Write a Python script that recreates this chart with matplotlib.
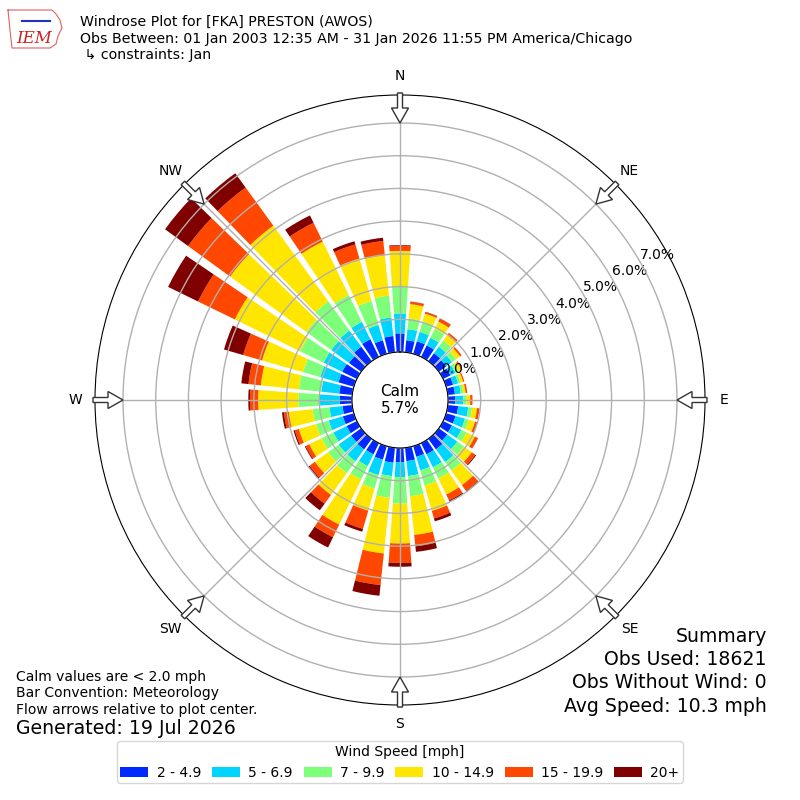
import numpy as np
import matplotlib.pyplot as plt
from matplotlib.patches import FancyArrow

# direction bins (deg, meteorological) and frequency (%) per speed class
directions = np.arange(0, 360, 10)
speed_labels = ['2 - 4.9', '5 - 6.9', '7 - 9.9', '10 - 14.9', '15 - 19.9', '20+']

spd_2_5 = [0.57, 0.37, 0.40, 0.39, 0.30, 0.28, 0.25, 0.22, 0.22, 0.22, 0.32, 0.30,
           0.30, 0.32, 0.40, 0.38, 0.34, 0.41, 0.43, 0.46, 0.43, 0.38, 0.40, 0.38,
           0.35, 0.35, 0.30, 0.37, 0.40, 0.49, 0.50, 0.46, 0.55, 0.60, 0.43, 0.50]
spd_5_7 = [0.61, 0.34, 0.30, 0.26, 0.25, 0.22, 0.17, 0.16, 0.18, 0.25, 0.31, 0.30,
           0.32, 0.38, 0.48, 0.44, 0.43, 0.46, 0.46, 0.41, 0.49, 0.40, 0.45, 0.47,
           0.45, 0.45, 0.40, 0.61, 0.55, 0.58, 0.63, 0.67, 0.61, 0.59, 0.49, 0.57]
spd_7_10 = [0.82, 0.33, 0.33, 0.30, 0.23, 0.15, 0.10, 0.08, 0.08, 0.10, 0.12, 0.12,
            0.18, 0.25, 0.32, 0.38, 0.48, 0.62, 0.81, 0.67, 0.43, 0.46, 0.45, 0.40,
            0.40, 0.40, 0.52, 0.66, 0.69, 0.55, 0.80, 0.94, 1.10, 0.91, 0.76, 0.67]
spd_10_15 = [1.09, 0.44, 0.25, 0.25, 0.22, 0.15, 0.10, 0.08, 0.07, 0.11, 0.15, 0.20,
             0.28, 0.30, 0.55, 0.55, 0.81, 1.19, 1.22, 1.71, 0.70, 1.53, 0.82, 0.50,
             0.42, 0.55, 0.73, 1.23, 1.17, 1.30, 2.22, 2.88, 2.86, 1.82, 1.35, 1.24]
spd_15_20 = [0.16, 0.07, 0.05, 0.10, 0.07, 0.06, 0.04, 0.04, 0.05, 0.07, 0.08, 0.08,
             0.10, 0.13, 0.22, 0.20, 0.24, 0.35, 0.59, 0.97, 0.58, 0.43, 0.33, 0.20,
             0.12, 0.13, 0.15, 0.25, 0.38, 0.60, 1.25, 1.59, 1.44, 0.64, 0.45, 0.44]
spd_20p = [0.02, 0.01, 0.01, 0.01, 0.00, 0.00, 0.00, 0.00, 0.00, 0.00, 0.00, 0.00,
           0.01, 0.03, 0.03, 0.05, 0.09, 0.17, 0.12, 0.33, 0.09, 0.35, 0.25, 0.05,
           0.03, 0.04, 0.06, 0.05, 0.22, 0.61, 1.02, 0.87, 0.54, 0.25, 0.10, 0.10]
calm_pct = 5.7

compass = ['N', 'NE', 'E', 'SE', 'S', 'SW', 'W', 'NW']

series = [spd_2_5, spd_5_7, spd_7_10, spd_10_15, spd_15_20, spd_20p]
colors = plt.cm.jet(np.linspace(0, 1, 7))[1:]

fig = plt.figure(figsize=(8, 8), dpi=100)
ax = fig.add_axes([0.11875, 0.11875, 0.7625, 0.7625], projection='polar')
ax.set_theta_zero_location('N')
ax.set_theta_direction(-1)
ax.set_rorigin(-1.467)
ax.set_ylim(0, 7.856)

theta = np.deg2rad(directions)
width = np.deg2rad(10) * 0.8
bottom = np.zeros(len(directions))
handles = []
for vals, c, lab in zip(series, colors, speed_labels):
    vals = np.array(vals)
    b = ax.bar(theta, vals, width=width, bottom=bottom, color=c, label=lab,
               linewidth=0)
    handles.append(b)
    bottom += vals

ax.set_thetagrids(np.arange(0, 360, 45), compass, fontsize=10)
ax.tick_params(axis='x', pad=3.5)
ax.set_rgrids(np.arange(0, 8), ['%.1f%%' % v for v in range(8)], angle=60,
              fontsize=10)
ax.grid(True, color='#b0b0b0', lw=1)

ax.text(0.5, 0.5, 'Calm\n%.1f%%' % calm_pct, transform=ax.transAxes,
        ha='center', va='center', fontsize=11)

# flow arrows at the 8 compass points
for b in np.deg2rad(np.arange(0, 360, 45)):
    r1, r2 = 307 / 800, 277 / 800
    x0, y0 = 0.5 + r1 * np.sin(b), 0.5 + r1 * np.cos(b)
    dx, dy = (r2 - r1) * np.sin(b), (r2 - r1) * np.cos(b)
    arr = FancyArrow(x0, y0, dx, dy, width=5 / 800, head_width=17 / 800,
                     head_length=15 / 800, length_includes_head=True,
                     fc='white', ec='#333333', lw=1, transform=fig.transFigure)
    fig.add_artist(arr)

# header
fig.text(80 / 800, 1 - 26 / 800, 'Windrose Plot for [FKA] PRESTON (AWOS)',
         fontsize=10.2, va='baseline')
fig.text(80 / 800, 1 - 42.7 / 800,
         'Obs Between: 01 Jan 2003 12:35 AM - 31 Jan 2026 11:55 PM America/Chicago',
         fontsize=10.2, va='baseline')
fig.text(80 / 800, 1 - 59.3 / 800, ' \u21b3 constraints: Jan', fontsize=10.2,
         va='baseline')

# crude logo
iowa_x = [8, 52, 56, 60, 62, 58, 56, 50, 12, 10, 8]
iowa_y = [10, 10, 14, 20, 28, 36, 44, 48, 48, 30, 10]
fig.add_artist(plt.Line2D(np.array(iowa_x) / 800, 1 - np.array(iowa_y) / 800,
                          color='#e06060', lw=0.8, transform=fig.transFigure))
fig.add_artist(plt.Line2D(np.array([22, 50]) / 800, 1 - np.array([21, 21]) / 800,
                          color='#2030c0', lw=1.5, transform=fig.transFigure))
fig.text(16 / 800, 1 - 43 / 800, 'IEM', color='#d02020', fontsize=12,
         fontstyle='italic', family='DejaVu Serif', va='baseline')

# footer notes
notes = ['Calm values are < 2.0 mph', 'Bar Convention: Meteorology',
         'Flow arrows relative to plot center.']
for i, t in enumerate(notes):
    fig.text(16 / 800, 1 - (680.7 + 16.7 * i) / 800, t, fontsize=10,
             va='baseline')
fig.text(16 / 800, 1 - 734 / 800, 'Generated: 19 Jul 2026', fontsize=13.6,
         va='baseline')

summary = ['Summary', 'Obs Used: 18621', 'Obs Without Wind: 0',
           'Avg Speed: 10.3 mph']
for i, t in enumerate(summary):
    fig.text(767 / 800, 1 - (641.7 + 23.3 * i) / 800, t, fontsize=13.6,
             ha='right', va='baseline')

fig.legend(handles=handles, loc='lower center', bbox_to_anchor=(0.5, 10 / 800),
           ncol=6, title='Wind Speed [mph]', fontsize=10, title_fontsize=10,
           columnspacing=0.8, handletextpad=0.6, borderpad=0.25)

fig.savefig('out.png', dpi=100)
